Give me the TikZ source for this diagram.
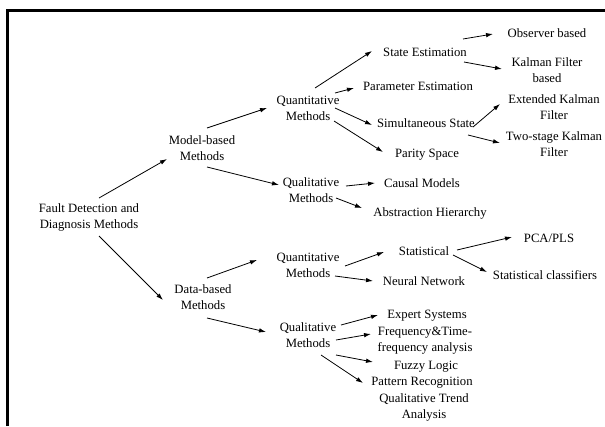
\documentclass[tikz,border=0pt]{standalone}
\usepackage{fontspec}
\setmainfont{Liberation Serif}
\usetikzlibrary{arrows.meta}
\tikzset{
  lbl/.style={align=center, inner sep=0pt, font=\fontsize{12.7}{16}\selectfont},
  arr/.style={line width=0.8pt, -{Latex[length=7pt,width=4.5pt]}},
  frame/.style={line width=3pt}
}
\newcommand{\conn}[6]{\draw[arr] ([shift={(#2,#3)}]#1.center) -- ([shift={(#5,#6)}]#4.center);}
\begin{document}
\begin{tikzpicture}[x=1pt,y=-1pt]
\useasboundingbox (0,0) rectangle (605,426);
\fill[white] (0,0) rectangle (605,426);
\draw[frame] (7.5,426) -- (7.5,10.5) -- (605,10.5);
% nodes
\node[lbl] (fdd) at (89,217) {Fault Detection and\\Diagnosis Methods};
\node[lbl] (model) at (202,148) {Model-based\\Methods};
\node[lbl] (data) at (203,297) {Data-based\\Methods};
\node[lbl] (qn1) at (308,108) {Quantitative\\Methods};
\node[lbl] (ql1) at (311,190) {Qualitative\\Methods};
\node[lbl] (qn2) at (308,265) {Quantitative\\Methods};
\node[lbl] (ql2) at (308,335) {Qualitative\\Methods};
\node[lbl] (se) at (425,52) {State Estimation};
\node[lbl] (ob) at (547,33) {Observer based};
\node[lbl] (kf) at (547,70) {Kalman Filter\\based};
\node[lbl] (pe) at (418,86) {Parameter Estimation};
\node[lbl] (ss) at (426,123) {Simultaneous State};
\node[lbl] (ek) at (554,107) {Extended Kalman\\Filter};
\node[lbl] (ts) at (554,144) {Two-stage Kalman\\Filter};
\node[lbl] (ps) at (427,155) {Parity Space};
\node[lbl] (cm) at (422,183) {Causal Models};
\node[lbl] (ah) at (430,213) {Abstraction Hierarchy};
\node[lbl] (st) at (424,251) {Statistical};
\node[lbl] (pca) at (549,238) {PCA/PLS};
\node[lbl] (sc) at (545,275) {Statistical classifiers};
\node[lbl] (nn) at (424,281) {Neural Network};
\node[lbl] (es) at (427,316) {Expert Systems};
\node[lbl] (ft) at (425,341) {Frequency\&Time-\\frequency analysis};
\node[lbl] (fl) at (426,367) {Fuzzy Logic};
\node[lbl] (pr) at (422,383) {Pattern Recognition};
\node[lbl] (qt) at (424,407) {Qualitative Trend\\Analysis};
% connectors
\conn{fdd}{10}{-19}{model}{-35}{11}
\conn{fdd}{10}{19}{data}{-40}{3}
\conn{model}{5}{-20}{qn1}{-41}{0}
\conn{model}{5}{19}{ql1}{-32}{-5}
\conn{data}{4}{-19}{qn2}{-51}{-5}
\conn{data}{4}{21}{ql2}{-42}{-3}
\conn{qn1}{7}{-20}{se}{-53}{-1}
\conn{qn1}{27}{-15}{pe}{-64}{2}
\conn{qn1}{27}{0}{ss}{-54}{2}
\conn{qn1}{26}{13}{ps}{-44}{-3}
\conn{se}{38}{-13}{ob}{-54}{1}
\conn{se}{39}{10}{kf}{-45}{-1}
\conn{ss}{47}{4}{ek}{-54}{-3}
\conn{ss}{42}{12}{ts}{-54}{-1}
\conn{ql1}{35}{-4}{cm}{-47}{0}
\conn{ql1}{25}{8}{ah}{-68}{-5}
\conn{qn2}{37}{1}{st}{-40}{1}
\conn{qn2}{27}{11}{nn}{-51}{0}
\conn{st}{33}{-1}{pca}{-37}{-1}
\conn{st}{29}{4}{sc}{-58}{-3}
\conn{ql2}{33}{-10}{es}{-49}{-1}
\conn{ql2}{28}{5}{ft}{-54}{-7}
\conn{ql2}{28}{20}{fl}{-53}{-5}
\conn{ql2}{13}{20}{pr}{-59}{0}
\end{tikzpicture}
\end{document}
